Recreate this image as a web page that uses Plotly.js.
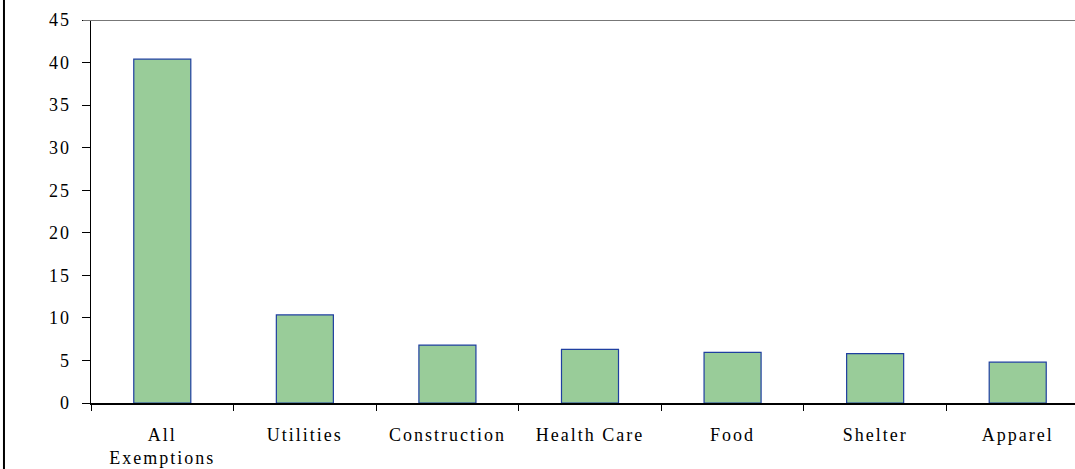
<!DOCTYPE html>
<html>
<head>
<meta charset="utf-8">
<script src="https://cdn.plot.ly/plotly-3.0.1.min.js"></script>
<style>
html, body { margin: 0; padding: 0; overflow: hidden; background: #fff; }
#chart { width: 1100px; height: 469px; }
.xtick text, .ytick text { letter-spacing: 2px; }
</style>
</head>
<body>
<div id="chart"></div>
<script>
const categories = ["All<br>Exemptions", "Utilities", "Construction", "Health Care", "Food", "Shelter", "Apparel"];
const values = [40.4, 10.35, 6.8, 6.3, 5.95, 5.8, 4.8];
const yTicks = [0, 5, 10, 15, 20, 25, 30, 35, 40, 45];

const trace = {
  type: "bar",
  x: categories,
  y: values,
  width: 0.4,
  marker: { color: "#99CC99", line: { color: "#1F3FA0", width: 1.2 } },
  hoverinfo: "none"
};

const font = { family: "'Liberation Serif', 'Times New Roman', serif", size: 18, color: "#000" };

const layout = {
  width: 1100,
  height: 469,
  margin: { l: 91, r: 11, t: 20, b: 66 },
  paper_bgcolor: "#fff",
  plot_bgcolor: "#fff",
  font: font,
  showlegend: false,
  bargap: 0.6,
  xaxis: {
    type: "category",
    tickson: "boundaries",
    ticks: "outside",
    ticklen: 6,
    tickcolor: "#000",
    tickwidth: 1,
    showline: true,
    linecolor: "#000",
    linewidth: 2,
    showgrid: false,
    zeroline: false,
    tickfont: font,
    ticklabelstandoff: 14,
    fixedrange: true
  },
  yaxis: {
    range: [0, 45],
    tickvals: yTicks,
    ticktext: yTicks.map(String),
    ticks: "outside",
    ticklen: 8,
    tickcolor: "#000",
    showline: true,
    linecolor: "#000",
    linewidth: 1.5,
    showgrid: false,
    zeroline: false,
    tickfont: font,
    ticklabelstandoff: 7,
    fixedrange: true
  },
  shapes: [
    { type: "line", xref: "paper", yref: "y", x0: -0.008, x1: 1, y0: 45, y1: 45,
      line: { color: "#777", width: 2 } },
    { type: "line", xref: "paper", yref: "paper", x0: -0.0872, x1: -0.0872, y0: -0.2, y1: 1.1,
      line: { color: "#000", width: 2 } }
  ]
};

Plotly.newPlot("chart", [trace], layout, { displayModeBar: false, staticPlot: true });
</script>
</body>
</html>
